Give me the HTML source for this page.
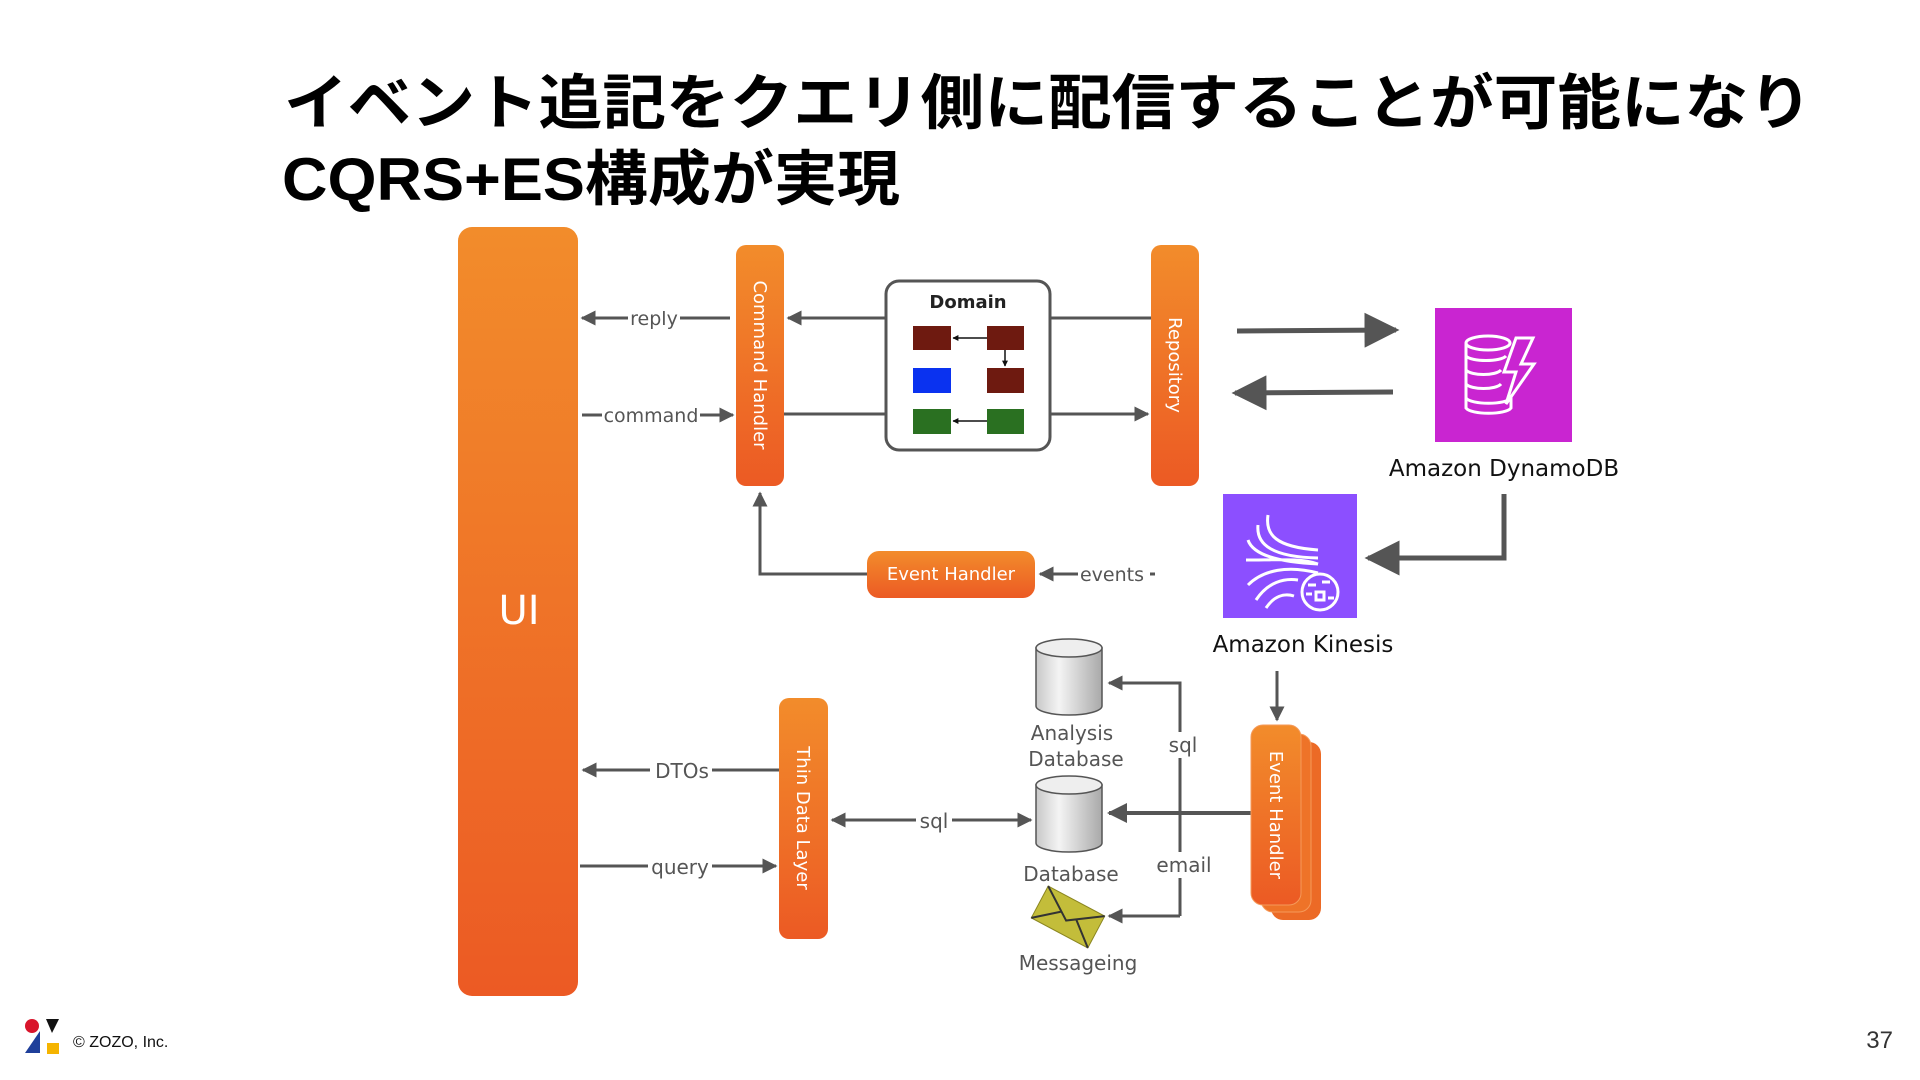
<!DOCTYPE html>
<html><head><meta charset="utf-8"><style>
html,body{margin:0;padding:0;background:#fff;width:1920px;height:1080px;overflow:hidden}
svg{display:block}
.t{font-family:"Liberation Sans","Noto Sans CJK JP",sans-serif}
.d{font-family:"DejaVu Sans","Noto Sans CJK JP",sans-serif}
</style></head><body>
<svg width="1920" height="1080" viewBox="0 0 1920 1080" xmlns="http://www.w3.org/2000/svg">
<defs>
<linearGradient id="og" x1="0" y1="0" x2="0" y2="1"><stop offset="0" stop-color="#f28c2b"/><stop offset="1" stop-color="#ec5a24"/></linearGradient>
<linearGradient id="cy" x1="0" y1="0" x2="1" y2="0"><stop offset="0" stop-color="#c8c8c8"/><stop offset="0.35" stop-color="#f4f4f4"/><stop offset="1" stop-color="#a9a9a9"/></linearGradient>
<marker id="a" viewBox="0 0 10 10" refX="9" refY="5" markerWidth="5" markerHeight="5" orient="auto-start-reverse"><path d="M0,0L10,5L0,10z" fill="#555"/></marker>
<marker id="s" viewBox="0 0 10 10" refX="9" refY="5" markerWidth="4" markerHeight="4" orient="auto-start-reverse"><path d="M0,0L10,5L0,10z" fill="#111"/></marker>
<marker id="b" viewBox="0 0 10 10" refX="9" refY="5" markerWidth="7" markerHeight="7" orient="auto-start-reverse"><path d="M0,0L10,5L0,10z" fill="#555"/></marker>
</defs>

<text class="t" x="284" y="124" font-size="60" font-weight="bold" fill="#000" textLength="1528" lengthAdjust="spacingAndGlyphs">イベント追記をクエリ側に配信することが可能になり</text>
<text class="t" x="282" y="200" font-size="60" font-weight="bold" fill="#000" textLength="618" lengthAdjust="spacingAndGlyphs">CQRS+ES構成が実現</text>

<rect x="458" y="227" width="120" height="769" rx="14" fill="url(#og)"/>
<text class="d" x="519" y="624" font-size="40" fill="#fff" text-anchor="middle">UI</text>

<rect x="736" y="245" width="48" height="241" rx="10" fill="url(#og)"/>
<text class="d" font-size="18" fill="#fff" text-anchor="middle" transform="translate(754,365) rotate(90)">Command Handler</text>
<rect x="1151" y="245" width="48" height="241" rx="10" fill="url(#og)"/>
<text class="d" font-size="18" fill="#fff" text-anchor="middle" transform="translate(1169,365) rotate(90)">Repository</text>

<g stroke="#555" stroke-width="3" fill="none">
<line x1="1151" y1="318" x2="1051" y2="318"/>
<line x1="885" y1="318" x2="788" y2="318" marker-end="url(#a)"/>
<line x1="784" y1="414" x2="885" y2="414"/>
<line x1="1051" y1="414" x2="1148" y2="414" marker-end="url(#a)"/>
<line x1="730" y1="318" x2="582" y2="318" marker-end="url(#a)"/>
<line x1="582" y1="415" x2="733" y2="415" marker-end="url(#a)"/>
</g>
<rect x="886" y="281" width="164" height="169" rx="13" fill="#fff" stroke="#555" stroke-width="3"/>
<text class="d" x="968" y="308" font-size="18" font-weight="bold" fill="#222" text-anchor="middle">Domain</text>
<rect x="913" y="326" width="38" height="24" fill="#6e1a10"/>
<rect x="987" y="326" width="37" height="24" fill="#6e1a10"/>
<rect x="913" y="368" width="38" height="25" fill="#0a32f0"/>
<rect x="987" y="368" width="37" height="25" fill="#6e1a10"/>
<rect x="913" y="409" width="38" height="25" fill="#2a7021"/>
<rect x="987" y="409" width="37" height="25" fill="#2a7021"/>
<g stroke="#111" stroke-width="1.5">
<line x1="987" y1="338" x2="953" y2="338" marker-end="url(#s)"/>
<line x1="1005" y1="350" x2="1005" y2="366" marker-end="url(#s)"/>
<line x1="987" y1="421" x2="953" y2="421" marker-end="url(#s)"/>
</g>
<rect x="628" y="306" width="52" height="22" fill="#fff"/>
<text class="d" x="654" y="325" font-size="19" fill="#555" text-anchor="middle">reply</text>
<rect x="602" y="404" width="98" height="22" fill="#fff"/>
<text class="d" x="651" y="422" font-size="19" fill="#555" text-anchor="middle">command</text>

<g stroke="#555" stroke-width="5" fill="none">
<line x1="1237" y1="331" x2="1396" y2="330" marker-end="url(#b)"/>
<line x1="1393" y1="392" x2="1235" y2="393" marker-end="url(#b)"/>
<polyline points="1504,494 1504,558 1368,558" marker-end="url(#b)"/>
</g>
<rect x="1435" y="308" width="137" height="134" fill="#c925d1"/>
<g stroke="#fff" stroke-width="3" fill="none">
<ellipse cx="1488" cy="343" rx="22" ry="7"/>
<path d="M1466,343v55M1466,356c5,6 35,6 40,0M1466,370c5,6 30,6 35,0M1466,384c5,6 30,6 35,0M1466,398c5,7 40,7 45,0v10c-5,7 -40,7 -45,0v-10"/>
<path d="M1516,338l-12,34h12l-10,32l28,-40h-13l12,-26z"/>
</g>
<text class="d" x="1504" y="476" font-size="23" fill="#111" text-anchor="middle">Amazon DynamoDB</text>

<rect x="1223" y="494" width="134" height="124" fill="#8c4fff"/>
<g stroke="#fff" stroke-width="3" fill="none">
<path d="M1268,515c-3,20 8,32 50,35M1258,525c-2,20 15,32 60,33M1248,540c5,15 30,22 70,24M1246,560c30,0 55,-2 72,4M1248,585c15,-15 40,-20 70,-12M1256,600c12,-18 28,-22 42,-20M1266,608c8,-12 18,-15 28,-12"/>
<circle cx="1320" cy="592" r="18"/>
<path d="M1308,585h8M1322,582h8M1306,594h6M1316,592h8v8h-8zM1328,598h6"/>
</g>
<text class="d" x="1303" y="652" font-size="23" fill="#111" text-anchor="middle">Amazon Kinesis</text>

<g stroke="#555" stroke-width="3" fill="none">
<polyline points="867,574 760,574 760,493" marker-end="url(#a)"/>
<line x1="1155" y1="574" x2="1040" y2="574" marker-end="url(#a)"/>
<line x1="1277" y1="671" x2="1277" y2="720" marker-end="url(#a)"/>
</g>
<rect x="867" y="551" width="168" height="47" rx="12" fill="url(#og)"/>
<text class="d" x="951" y="580" font-size="18" fill="#fff" text-anchor="middle">Event Handler</text>
<rect x="1078" y="563" width="72" height="22" fill="#fff"/>
<text class="d" x="1112" y="581" font-size="19" fill="#555" text-anchor="middle">events</text>

<g stroke="#555" stroke-width="3" fill="none">
<polyline points="1180,916 1180,683 1109,683" marker-end="url(#a)"/>
<line x1="1180" y1="916" x2="1109" y2="916" marker-end="url(#a)"/>
<line x1="1255" y1="813" x2="1109" y2="813" marker-end="url(#a)" stroke-width="4"/>
<line x1="583" y1="770" x2="779" y2="770"/>
<line x1="583" y1="770" x2="585" y2="770" marker-start="url(#a)"/>
<line x1="580" y1="866" x2="776" y2="866" marker-end="url(#a)"/>
<line x1="832" y1="820" x2="1031" y2="820" marker-start="url(#a)" marker-end="url(#a)"/>
</g>
<rect x="1162" y="732" width="38" height="26" fill="#fff"/>
<text class="d" x="1183" y="752" font-size="20" fill="#555" text-anchor="middle">sql</text>
<rect x="1156" y="852" width="56" height="26" fill="#fff"/>
<text class="d" x="1184" y="872" font-size="20" fill="#555" text-anchor="middle">email</text>
<rect x="650" y="760" width="62" height="22" fill="#fff"/>
<text class="d" x="682" y="778" font-size="20" fill="#555" text-anchor="middle">DTOs</text>
<rect x="648" y="856" width="64" height="22" fill="#fff"/>
<text class="d" x="680" y="874" font-size="20" fill="#555" text-anchor="middle">query</text>
<rect x="916" y="810" width="36" height="22" fill="#fff"/>
<text class="d" x="934" y="828" font-size="20" fill="#555" text-anchor="middle">sql</text>

<g stroke="#555" stroke-width="1.5">
<path d="M1036,648v58a33,9 0 0 0 66,0v-58z" fill="url(#cy)"/>
<ellipse cx="1069" cy="648" rx="33" ry="9" fill="#eee"/>
<path d="M1036,785v58a33,9 0 0 0 66,0v-58z" fill="url(#cy)"/>
<ellipse cx="1069" cy="785" rx="33" ry="9" fill="#eee"/>
</g>
<text class="d" x="1072" y="740" font-size="20" fill="#555" text-anchor="middle">Analysis</text>
<text class="d" x="1076" y="766" font-size="20" fill="#555" text-anchor="middle">Database</text>
<text class="d" x="1071" y="881" font-size="20" fill="#555" text-anchor="middle">Database</text>
<g transform="translate(1068,917) rotate(28)">
<rect x="-32" y="-18" width="64" height="36" fill="#c3bd3a" stroke="#8a8520"/>
<path d="M-32,-18L0,4L32,-18M-32,18L-8,-2M32,18L8,-2" stroke="#333" stroke-width="2" fill="none"/>
</g>
<text class="d" x="1078" y="970" font-size="20" fill="#555" text-anchor="middle">Messageing</text>

<rect x="779" y="698" width="49" height="241" rx="10" fill="url(#og)"/>
<text class="d" font-size="18" fill="#fff" text-anchor="middle" transform="translate(797,818) rotate(90)">Thin Data Layer</text>

<rect x="1271" y="742" width="50" height="178" rx="12" fill="#ec6a26"/>
<rect x="1261" y="734" width="50" height="178" rx="12" fill="#ee7328" stroke="#f59a5a"/>
<rect x="1251" y="725" width="50" height="180" rx="12" fill="url(#og)" stroke="#f59a5a"/>
<text class="d" font-size="18" fill="#fff" text-anchor="middle" transform="translate(1270,815) rotate(90)">Event Handler</text>

<circle cx="32" cy="1026" r="7" fill="#d9142b"/>
<path d="M46,1019h13l-7,14z" fill="#111"/>
<path d="M25,1053l15,-22v22z" fill="#1f3f9a"/>
<rect x="47" y="1043" width="12" height="11" fill="#f5b400"/>
<text class="t" x="73" y="1047" font-size="16" fill="#111">© ZOZO, Inc.</text>
<text class="t" x="1893" y="1048" font-size="24" fill="#333" text-anchor="end">37</text>
</svg>
</body></html>
